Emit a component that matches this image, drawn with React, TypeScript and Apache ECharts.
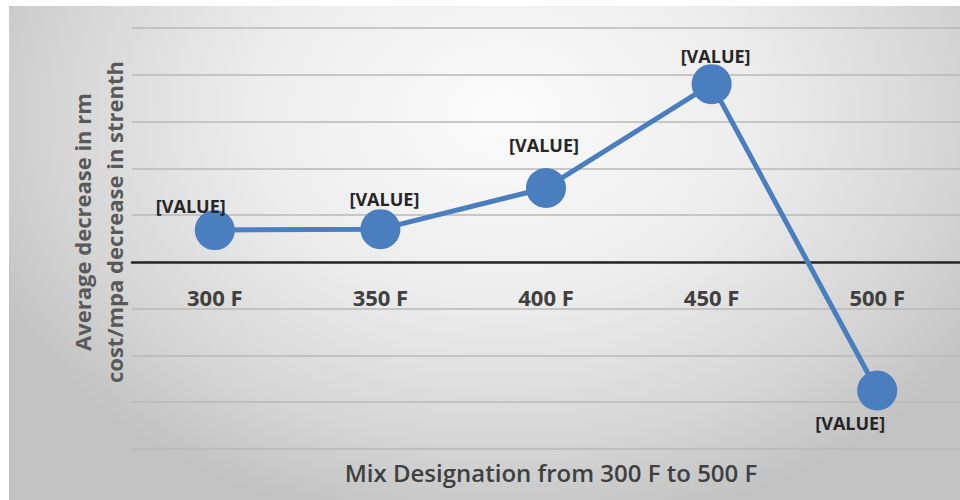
import React, { useEffect, useRef } from "react";
import * as echarts from "echarts";

const categories = ["300 F", "350 F", "400 F", "450 F", "500 F"];
const values = [0.68, 0.7, 1.58, 3.8, -2.75];
const pointLabels = ["[VALUE]", "[VALUE]", "[VALUE]", "[VALUE]", "[VALUE]"];
const labelOffsets: [number, number][] = [
  [-24, -24],
  [4, -30],
  [-2, -43],
  [4, -28],
  [-27, 32],
];
const yTitleLines = ["Average decrease in rm", "cost/mpa decrease in strenth"];
const xTitle = "Mix Designation from 300 F to 500 F";

export default function App() {
  const ref = useRef<HTMLDivElement>(null);
  useEffect(() => {
    if (!ref.current) return;
    const chart = echarts.init(ref.current, null, { renderer: "svg" });
    const font = "'Open Sans', 'Noto Sans', sans-serif";
    chart.setOption({
      animation: false,
      backgroundColor: "transparent",
      grid: { left: 132, top: 28, width: 838, height: 421, containLabel: false },
      xAxis: {
        type: "category",
        data: categories,
        boundaryGap: true,
        offset: -187,
        axisLine: { onZero: false, lineStyle: { color: "#262626", width: 2.5 } },
        axisTick: { show: false },
        axisLabel: {
          color: "#404040",
          fontFamily: font,
          fontWeight: "bold",
          fontSize: 22,
          margin: 24,
        },
        splitLine: { show: false },
      },
      yAxis: {
        type: "value",
        min: -4,
        max: 5,
        interval: 1,
        axisLine: { show: false },
        axisTick: { show: false },
        axisLabel: { show: false },
        splitLine: { lineStyle: { color: "#b8b8b8", width: 1.5 } },
      },
      graphic: [
        {
          type: "text",
          x: 98,
          y: 222,
          rotation: Math.PI / 2,
          style: {
            text: yTitleLines.join("\n"),
            fill: "#595959",
            fontFamily: font,
            fontWeight: "bold",
            fontSize: 22,
            lineHeight: 32,
            align: "center",
            verticalAlign: "middle",
          },
        },
        {
          type: "text",
          x: 551,
          y: 472,
          style: {
            text: xTitle,
            fill: "#404040",
            fontFamily: font,
            fontSize: 24,
            fontWeight: 600,
            align: "center",
            verticalAlign: "middle",
          },
        },
      ],
      series: [
        {
          type: "line",
          data: values.map((v, i) => ({
            value: v,
            label: {
              show: true,
              position: "inside",
              offset: labelOffsets[i],
              formatter: () => pointLabels[i],
            },
          })),
          symbol: "circle",
          symbolSize: 40,
          lineStyle: { color: "#4a7ebf", width: 5 },
          itemStyle: { color: "#4a7ebf" },
          label: {
            color: "#262626",
            fontFamily: font,
            fontWeight: "bold",
            fontSize: 18,
          },
        },
      ],
    });
    return () => chart.dispose();
  }, []);
  return (
    <div style={{ position: "fixed", left: 0, top: 0, width: 960, height: 500, background: "#ffffff" }}>
      <div
        style={{
          position: "absolute",
          left: 9,
          top: 6,
          width: 951,
          height: 494,
          background:
            "radial-gradient(ellipse 60% 85% at 52% 22%, #fbfbfb 0%, #ececec 45%, #d4d4d4 80%, #c2c2c2 100%)",
        }}
      />
      <div ref={ref} style={{ position: "absolute", left: 0, top: 0, width: 960, height: 500 }} />
    </div>
  );
}
